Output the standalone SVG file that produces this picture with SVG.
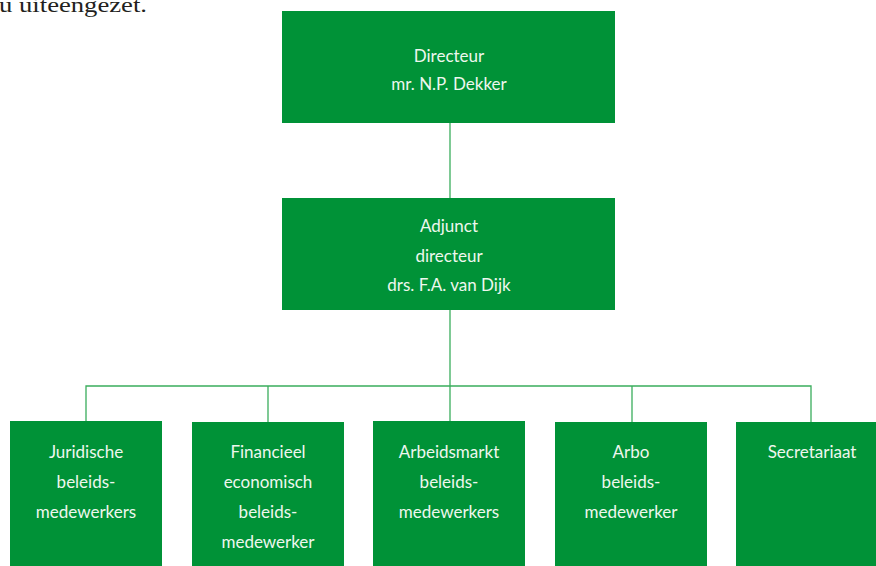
<svg xmlns="http://www.w3.org/2000/svg" width="876" height="566" viewBox="0 0 876 566">
<style>
.box{fill:#009237}
.t{font-family:Lato,"Open Sans",sans-serif;font-size:17px;fill:#eef7ee;text-anchor:middle}
.c{stroke:#3aad5c;stroke-width:1.3;fill:none}
.intro{font-family:"Liberation Serif",serif;font-size:21px;fill:#231f20}
</style>
<rect width="876" height="566" fill="#ffffff"/>
<text class="intro" x="-1" y="12" textLength="148" lengthAdjust="spacingAndGlyphs">u uiteengezet.</text>
<g id="connectors">
<line class="c" x1="450" y1="123" x2="450" y2="198"/>
<line class="c" x1="450" y1="310" x2="450" y2="421"/>
<polyline class="c" points="86,421 86,386 811,386 811,422"/>
<line class="c" x1="268" y1="386" x2="268" y2="422"/>
<line class="c" x1="632" y1="386" x2="632" y2="422"/>
</g>
<g id="directeur">
<rect class="box" x="282" y="11" width="333" height="112"/>
<text class="t" x="449" y="62">Directeur</text>
<text class="t" x="449" y="90">mr. N.P. Dekker</text>
</g>
<g id="adjunct">
<rect class="box" x="282" y="198" width="333" height="112"/>
<text class="t" x="449" y="232">Adjunct</text>
<text class="t" x="449" y="262">directeur</text>
<text class="t" x="449" y="291">drs. F.A. van Dijk</text>
</g>
<g id="juridisch">
<rect class="box" x="10" y="421" width="152" height="145"/>
<text class="t" x="86" y="458">Juridische</text>
<text class="t" x="86" y="488">beleids-</text>
<text class="t" x="86" y="518">medewerkers</text>
</g>
<g id="financieel">
<rect class="box" x="192" y="422" width="152" height="144"/>
<text class="t" x="268" y="458">Financieel</text>
<text class="t" x="268" y="488">economisch</text>
<text class="t" x="268" y="518">beleids-</text>
<text class="t" x="268" y="548">medewerker</text>
</g>
<g id="arbeidsmarkt">
<rect class="box" x="373" y="421" width="152" height="145"/>
<text class="t" x="449" y="458">Arbeidsmarkt</text>
<text class="t" x="449" y="488">beleids-</text>
<text class="t" x="449" y="518">medewerkers</text>
</g>
<g id="arbo">
<rect class="box" x="555" y="422" width="152" height="144"/>
<text class="t" x="631" y="458">Arbo</text>
<text class="t" x="631" y="488">beleids-</text>
<text class="t" x="631" y="518">medewerker</text>
</g>
<g id="secretariaat">
<rect class="box" x="736" y="422" width="152" height="144"/>
<text class="t" x="812" y="458">Secretariaat</text>
</g>
</svg>
